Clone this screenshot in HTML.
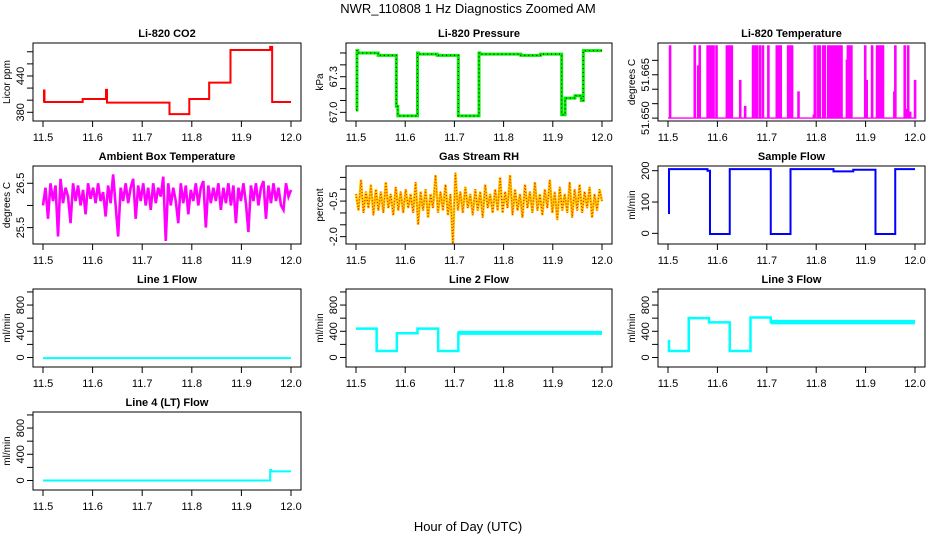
<!DOCTYPE html>
<html><head><meta charset="utf-8"><style>
html,body{margin:0;padding:0;background:#fff;}
svg{display:block;font-family:"Liberation Sans",sans-serif;}
</style></head><body>
<svg id="fig" width="936" height="540" viewBox="0 0 936 540">
<rect width="936" height="540" fill="#fff"/>
<text x="468" y="13" text-anchor="middle" font-size="13">NWR_110808  1 Hz Diagnostics Zoomed AM</text>
<text x="468" y="531" text-anchor="middle" font-size="13">Hour of Day (UTC)</text>
</svg>
<script>
// ---- data ----
const xTicks = [11.5, 11.6, 11.7, 11.8, 11.9, 12.0];
const xTickLabels = ['11.5','11.6','11.7','11.8','11.9','12.0'];
const co2Times = [11.5, 11.502, 11.503, 11.58, 11.627, 11.629, 11.755, 11.795, 11.835, 11.878, 11.958, 11.962];
const co2Values = [398, 416, 397, 402, 417, 396, 377, 402, 429, 483, 488, 397];
const presTimes = [11.5, 11.502, 11.504, 11.545, 11.582, 11.585, 11.625, 11.627, 11.665, 11.708, 11.750, 11.752, 11.835, 11.875, 11.918, 11.925, 11.945, 11.958, 11.962];
const presValues = [67.02, 67.52, 67.50, 67.48, 67.05, 66.97, 67.50, 67.49, 67.48, 66.97, 67.50, 67.49, 67.48, 67.49, 66.98, 67.12, 67.14, 67.10, 67.52];
const tempSpikeTimes = [11.503,11.553,11.560,11.563,11.579,11.581,11.585,11.589,11.591,11.597,11.618,11.620,11.621,11.623,11.625,11.628,11.645,11.655,11.671,11.674,11.679,11.685,11.691,11.702,11.719,11.721,11.723,11.727,11.742,11.746,11.750,11.763,11.794,11.796,11.802,11.806,11.813,11.816,11.823,11.826,11.831,11.836,11.838,11.840,11.842,11.844,11.846,11.848,11.850,11.861,11.863,11.867,11.870,11.898,11.901,11.912,11.922,11.924,11.928,11.931,11.934,11.957,11.959,11.978,11.982,11.985,11.989,11.999];
const tempSpikeValues = [51.675,51.675,51.668,51.675,51.675,51.675,51.675,51.675,51.675,51.675,51.675,51.675,51.675,51.675,51.675,51.675,51.663,51.654,51.675,51.675,51.675,51.675,51.675,51.675,51.675,51.661,51.675,51.675,51.675,51.675,51.675,51.659,51.651,51.675,51.675,51.675,51.675,51.675,51.675,51.675,51.675,51.675,51.675,51.675,51.675,51.675,51.675,51.675,51.675,51.670,51.675,51.675,51.675,51.675,51.663,51.675,51.675,51.675,51.675,51.675,51.675,51.659,51.675,51.675,51.653,51.675,51.652,51.663];
const tempBase = 51.650;
const ambientValues = [26.0,26.4,25.7,26.5,26.1,26.45,25.3,26.6,26.05,26.4,26.2,25.6,26.5,26.1,26.45,26.0,26.35,25.8,26.5,26.15,26.4,26.05,26.5,26.1,26.3,25.75,26.45,26.05,26.7,26.0,25.3,26.4,26.1,26.5,26.05,26.4,26.6,25.7,26.45,26.1,26.5,26.0,26.4,25.9,26.5,26.05,26.4,26.2,26.65,25.2,26.5,26.0,26.4,26.1,25.6,26.5,26.05,26.45,25.8,26.35,26.1,26.5,26.0,26.4,26.55,25.5,26.45,26.05,26.4,26.1,26.5,25.9,26.4,26.05,26.5,26.0,26.45,25.6,26.4,26.1,26.5,26.05,25.4,26.45,26.1,26.5,26.0,26.4,26.55,25.7,26.45,26.05,26.5,26.1,26.4,26.0,25.9,26.5,26.2,26.35];
const rhValues = [-0.2,-0.9,0.4,-1.0,-0.1,-0.8,0.2,-1.1,0.0,-0.9,-0.1,-1.0,0.3,-0.8,-0.2,-1.1,0.1,-0.9,-0.1,-1.0,0.0,-0.8,-0.2,-1.0,0.3,-1.5,-0.1,-0.9,0.0,-1.2,-0.2,-0.8,0.6,-1.0,-0.1,-0.9,0.2,-1.1,-0.2,-2.3,0.7,-0.9,-0.1,-1.0,0.1,-0.8,-0.2,-1.1,0.0,-0.9,-0.1,-1.2,0.2,-0.8,-0.2,-1.0,0.0,-0.9,0.5,-1.0,-0.1,-0.8,0.6,-1.1,0.0,-0.9,-0.2,-1.2,0.2,-0.8,-0.1,-1.0,0.3,-0.9,-0.2,-1.1,0.0,-0.8,0.4,-1.0,-0.1,-1.3,0.1,-0.9,-0.2,-1.0,0.3,-1.2,0.0,-0.9,0.2,-1.0,-0.1,-0.8,0.1,-1.2,-0.2,-0.9,0.0,-0.5];
const sampleTimes = [11.5, 11.502, 11.580, 11.585, 11.625, 11.708, 11.748, 11.835, 11.875, 11.920, 11.960];
const sampleValues = [65, 205, 200, -2, 205, -2, 205, 198, 203, -2, 205];
const line1Times = [11.5];
const line1Values = [-10];
const line2Times = [11.5, 11.542, 11.583, 11.625, 11.667, 11.708];
const line2Values = [440, 100, 370, 440, 100, 375];
const line3Times = [11.5, 11.502, 11.542, 11.583, 11.625, 11.667, 11.708];
const line3Values = [250, 100, 600, 535, 100, 610, 540];
const line4Times = [11.5, 11.958, 11.960];
const line4Values = [0, 160, 140];

const flowTicks = [0,200,400,600,800,1000];
const flowLabels = ['0','','400','','800',''];

const NS = 'http://www.w3.org/2000/svg';
const svg = document.getElementById('fig');
function el(tag, attrs, parent){
  const e = document.createElementNS(NS, tag);
  for (const k in attrs) e.setAttribute(k, attrs[k]);
  (parent||svg).appendChild(e);
  return e;
}
const colL = [33, 346, 658], colR = [301, 612, 925];

function panel(cfg){
  const L = colL[cfg.col], R = colR[cfg.col];
  const T = 43 + 123*cfg.row, B = 121 + 123*cfg.row;
  const g = el('g', {});
  
  
  const sx = h => L + 10 + (h - 11.5) / 0.5 * (R - L - 20);
  const sy = v => B - (v - cfg.ylim[0]) / (cfg.ylim[1] - cfg.ylim[0]) * (B - T);
  const t = el('text', {x:(L+R)/2, y:T-6, 'text-anchor':'middle', 'font-size':11, 'font-weight':'bold'}, g);
  t.textContent = cfg.title;
  
  
  const plot = el('g', {}, g);
  
  
  cfg.draw(plot, sx, sy);
  const box = el('rect', {x:L, y:T, width:R-L, height:B-T, fill:'none', stroke:'#000', 'stroke-width':1}, g);
  
  
  const xa = el('g', {}, g);
  
  
  el('line', {x1:sx(xTicks[0]), x2:sx(xTicks[xTicks.length-1]), y1:B, y2:B, stroke:'#000'}, xa);
  xTicks.forEach((v,i) => {
    el('line', {x1:sx(v), x2:sx(v), y1:B, y2:B+6, stroke:'#000'}, xa);
    const tx = el('text', {x:sx(v), y:B+20, 'text-anchor':'middle', 'font-size':11}, xa);
    tx.textContent = xTickLabels[i];
  });
  const ya = el('g', {}, g);
  
  
  cfg.yTicks.forEach((v,i) => {
    el('line', {x1:L-6, x2:L, y1:sy(v), y2:sy(v), stroke:'#000'}, ya);
    if (cfg.yLabels[i]) {
      const ty = el('text', {x:0, y:0, 'text-anchor':'middle', 'font-size':11, transform:`translate(${L-9},${sy(v)}) rotate(-90)`}, ya);
      ty.textContent = cfg.yLabels[i];
    }
  });
  const yl = el('text', {x:0, y:0, 'text-anchor':'middle', 'font-size':10, transform:`translate(${L-23},${(T+B)/2}) rotate(-90)`}, g);
  yl.textContent = cfg.ylab;
  
  
}

function stepPath(times, vals, sx, sy){
  let d = `M${sx(times[0])},${sy(vals[0])}`;
  for (let i = 1; i < times.length; i++) d += ` H${sx(times[i])} V${sy(vals[i])}`;
  d += ` H${sx(12.0)}`;
  return d;
}
function noisePath(vals, sx, sy){
  let d = '';
  vals.forEach((v,i) => { const h = 11.5 + i/(vals.length-1)*0.5; d += (i?' L':'M') + sx(h) + ',' + sy(v); });
  return d;
}
function addPath(parent, d, attrs){ return el('path', Object.assign({d:d, fill:'none'}, attrs), parent); }

panel({name:'co2-panel', col:0, row:0, title:'Li-820 CO2', ylab:'Licor ppm', ylim:[365.6,494.5],
  yTicks:[380,400,420,440,460,480], yLabels:['380','','','440','',''],
  draw:(p,sx,sy)=>{ addPath(p, stepPath(co2Times, co2Values, sx, sy), {stroke:'#ff0000','stroke-width':2}); }});
panel({name:'pressure-panel', col:1, row:0, title:'Li-820 Pressure', ylab:'kPa', ylim:[66.927,67.584],
  yTicks:[67.0,67.1,67.2,67.3,67.4,67.5], yLabels:['67.0','','','67.3','',''],
  draw:(p,sx,sy)=>{ const d = stepPath(presTimes, presValues, sx, sy);
    addPath(p, d, {stroke:'#00ee00','stroke-width':3}); addPath(p, d, {stroke:'#000','stroke-width':1,'stroke-dasharray':'1,3'}); }});
panel({name:'li820-temperature-panel', col:2, row:0, title:'Li-820 Temperature', ylab:'degrees C', ylim:[51.649,51.676],
  yTicks:[51.650,51.655,51.660,51.665,51.670], yLabels:['51.650','','','51.665',''],
  draw:(p,sx,sy)=>{ let d = `M${sx(11.5)},${sy(tempBase)}`;
    tempSpikeTimes.forEach((h,i)=>{ d += ` H${sx(h)} V${sy(tempSpikeValues[i])} H${sx(h)+1.2} V${sy(tempBase)}`; });
    d += ` H${sx(12.0)}`;
    addPath(p, d, {stroke:'#ff00ff','stroke-width':1.4}); }});
panel({name:'ambient-box-temperature-panel', col:0, row:1, title:'Ambient Box Temperature', ylab:'degrees C', ylim:[25.13,26.89],
  yTicks:[25.5,26.0,26.5], yLabels:['25.5','','26.5'],
  draw:(p,sx,sy)=>{ addPath(p, noisePath(ambientValues, sx, sy), {stroke:'#ff00ff','stroke-width':2.6}); }});
panel({name:'gas-stream-rh-panel', col:1, row:1, title:'Gas Stream RH', ylab:'percent', ylim:[-2.31,0.98],
  yTicks:[0.5,0,-0.5,-1.0,-1.5,-2.0], yLabels:['','','-0.5','','','-2.0'],
  draw:(p,sx,sy)=>{ const d = noisePath(rhValues, sx, sy);
    addPath(p, d, {stroke:'#ffcc00','stroke-width':2.6}); addPath(p, d, {stroke:'#ee2200','stroke-width':1.2,'stroke-dasharray':'1,2'}); }});
panel({name:'sample-flow-panel', col:2, row:1, title:'Sample Flow', ylab:'ml/min', ylim:[-34,215],
  yTicks:[0,100,200], yLabels:['0','100','200'],
  draw:(p,sx,sy)=>{ addPath(p, stepPath(sampleTimes, sampleValues, sx, sy), {stroke:'#0000ff','stroke-width':2}); }});
panel({name:'line1-flow-panel', col:0, row:2, title:'Line 1 Flow', ylab:'ml/min', ylim:[-145,1045],
  yTicks:flowTicks, yLabels:flowLabels,
  draw:(p,sx,sy)=>{ addPath(p, stepPath(line1Times, line1Values, sx, sy), {stroke:'#00ffff','stroke-width':2}); }});
panel({name:'line2-flow-panel', col:1, row:2, title:'Line 2 Flow', ylab:'ml/min', ylim:[-145,1045],
  yTicks:flowTicks, yLabels:flowLabels,
  draw:(p,sx,sy)=>{ addPath(p, stepPath(line2Times, line2Values, sx, sy), {stroke:'#00ffff','stroke-width':2.5});
    addPath(p, `M${sx(11.708)},${sy(line2Values[5])} H${sx(12.0)}`, {stroke:'#00ffff','stroke-width':4}); }});
panel({name:'line3-flow-panel', col:2, row:2, title:'Line 3 Flow', ylab:'ml/min', ylim:[-145,1045],
  yTicks:flowTicks, yLabels:flowLabels,
  draw:(p,sx,sy)=>{ addPath(p, stepPath(line3Times, line3Values, sx, sy), {stroke:'#00ffff','stroke-width':2.5});
    addPath(p, `M${sx(11.708)},${sy(line3Values[6])} H${sx(12.0)}`, {stroke:'#00ffff','stroke-width':4.5}); }});
panel({name:'line4-flow-panel', col:0, row:3, title:'Line 4 (LT) Flow', ylab:'ml/min', ylim:[-145,1045],
  yTicks:flowTicks, yLabels:flowLabels,
  draw:(p,sx,sy)=>{ addPath(p, stepPath(line4Times, line4Values, sx, sy), {stroke:'#00ffff','stroke-width':2}); }});
</script>
</body></html>
